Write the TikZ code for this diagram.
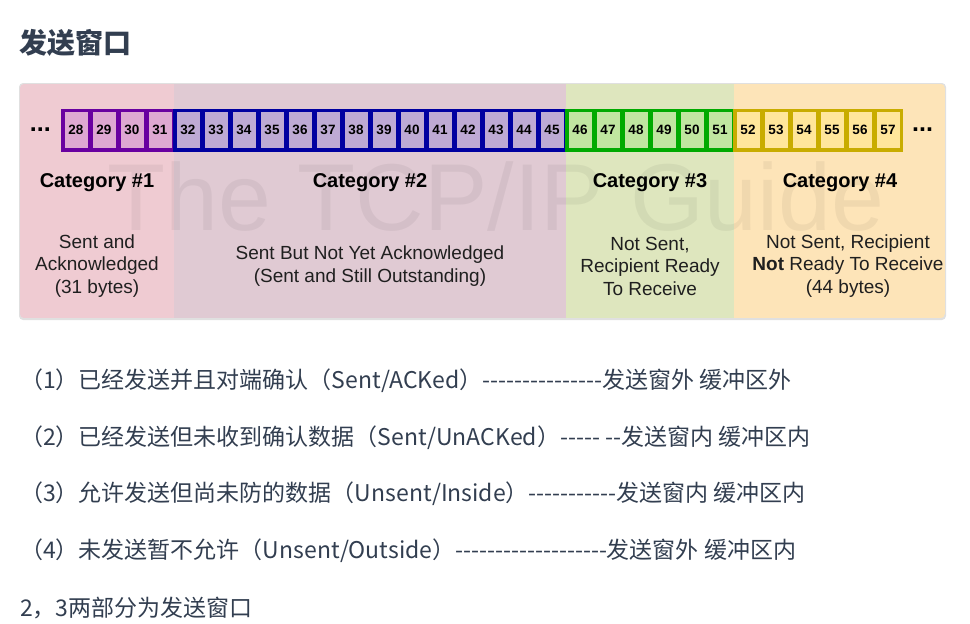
\documentclass[tikz,border=0pt]{standalone}
\usepackage{fontspec}
\setmainfont{Liberation Sans}
\newfontfamily\cjk{Noto Sans CJK SC}
\usetikzlibrary{positioning}
\definecolor{inkc}{RGB}{50,62,80}
\definecolor{bgone}{RGB}{239,203,210}
\definecolor{bgtwo}{RGB}{224,202,211}
\definecolor{bgthree}{RGB}{222,230,190}
\definecolor{bgfour}{RGB}{253,228,184}
\definecolor{fillone}{RGB}{222,168,210}
\definecolor{lineone}{RGB}{105,0,160}
\definecolor{filltwo}{RGB}{190,170,212}
\definecolor{linetwo}{RGB}{0,0,160}
\definecolor{fillthree}{RGB}{192,230,160}
\definecolor{linethree}{RGB}{0,170,0}
\definecolor{fillfour}{RGB}{255,230,155}
\definecolor{linefour}{RGB}{200,172,0}

\begin{document}
\begin{tikzpicture}[
  x=1pt, y=-1pt,
  cell/.style={draw, line width=2.5pt, minimum width=25.5pt,
               minimum height=38.5pt, inner sep=0pt,
               font=\bfseries\fontsize{13.5}{14}\selectfont},
  catlab/.style={font=\bfseries\fontsize{20}{22}\selectfont},
  desc/.style={align=center, text=black!88,
               font=\fontsize{19}{22.5}\selectfont},
  dots/.style={font=\bfseries\fontsize{25}{25}\selectfont, inner sep=0pt},
  zh/.style={anchor=west, inner sep=0pt, text=inkc,
             font=\cjk\fontsize{23}{24}\selectfont}
]
  \useasboundingbox (0,0) rectangle (970,624);

  % Title
  \node[anchor=west, inner sep=0pt, text=inkc,
        font=\cjk\bfseries\fontsize{28}{29}\selectfont] (title) at (19,43) {发送窗口};

  % Panel
  \fill[black!12, rounded corners=4pt] (19,83) rectangle (946,320);
  \begin{scope}
    \clip[rounded corners=4pt] (20,84) rectangle (945,318);
    \fill[bgone] (20,84) rectangle (174,318);
    \fill[bgtwo] (174,84) rectangle (566,318);
    \fill[bgthree] (566,84) rectangle (734,318);
    \fill[bgfour] (734,84) rectangle (945,318);
  \end{scope}

  % Watermark
  \node[anchor=base, inner sep=0pt, text=black, opacity=0.05,
        font=\fontsize{95}{95}\selectfont] (mark) at (496,230) {The TCP/IP Guide};

  % Cells
  \foreach \n in {28,...,31}
    \node[cell, draw=lineone, fill=fillone] (c\n) at ({76+(\n-28)*28},130) {\n};
  \foreach \n in {32,...,45}
    \node[cell, draw=linetwo, fill=filltwo] (c\n) at ({76+(\n-28)*28},130) {\n};
  \foreach \n in {46,...,51}
    \node[cell, draw=linethree, fill=fillthree] (c\n) at ({76+(\n-28)*28},130) {\n};
  \foreach \n in {52,...,57}
    \node[cell, draw=linefour, fill=fillfour] (c\n) at ({76+(\n-28)*28},130) {\n};
  \draw[lineone, line width=2pt] (c28.north west) rectangle (c31.south east);
  \draw[linetwo, line width=2pt] (c32.north west) rectangle (c45.south east);
  \draw[linethree, line width=2pt] (c46.north west) rectangle (c51.south east);
  \draw[linefour, line width=2pt] (c52.north west) rectangle (c57.south east);

  \node[dots, left=11pt of c28] (dotsL) {...};
  \node[dots, right=10pt of c57] (dotsR) {...};

  % Labels
  \node[catlab] (lab1) at (97,183) {Category \#1};
  \node[catlab] (lab2) at (370,183) {Category \#2};
  \node[catlab] (lab3) at (650,183) {Category \#3};
  \node[catlab] (lab4) at (840,183) {Category \#4};

  \node[desc] (desc1) at (97,266) {Sent and\\Acknowledged\\(31 bytes)};
  \node[desc] (desc2) at (370,266) {Sent But Not Yet Acknowledged\\(Sent and Still Outstanding)};
  \node[desc] (desc3) at (650,266) {Not Sent,\\Recipient Ready\\To Receive};
  \node[desc] (desc4) at (848,266) {Not Sent, Recipient\\\textbf{Not} Ready To Receive\\(44 bytes)};

  % Notes
  \node[zh] (line1) at (20,381) {（1）已经发送并且对端确认（Sent/ACKed）---------------发送窗外 缓冲区外};
  \node[zh] (line2) at (20,438) {（2）已经发送但未收到确认数据（Sent/UnACKed）----- --发送窗内 缓冲区内};
  \node[zh] (line3) at (20,494) {（3）允许发送但尚未防的数据（Unsent/Inside）-----------发送窗内 缓冲区内};
  \node[zh] (line4) at (20,551) {（4）未发送暂不允许（Unsent/Outside）-------------------发送窗外 缓冲区内};
  \node[zh] (line5) at (20,608) {2，3两部分为发送窗口};
\end{tikzpicture}
\end{document}
